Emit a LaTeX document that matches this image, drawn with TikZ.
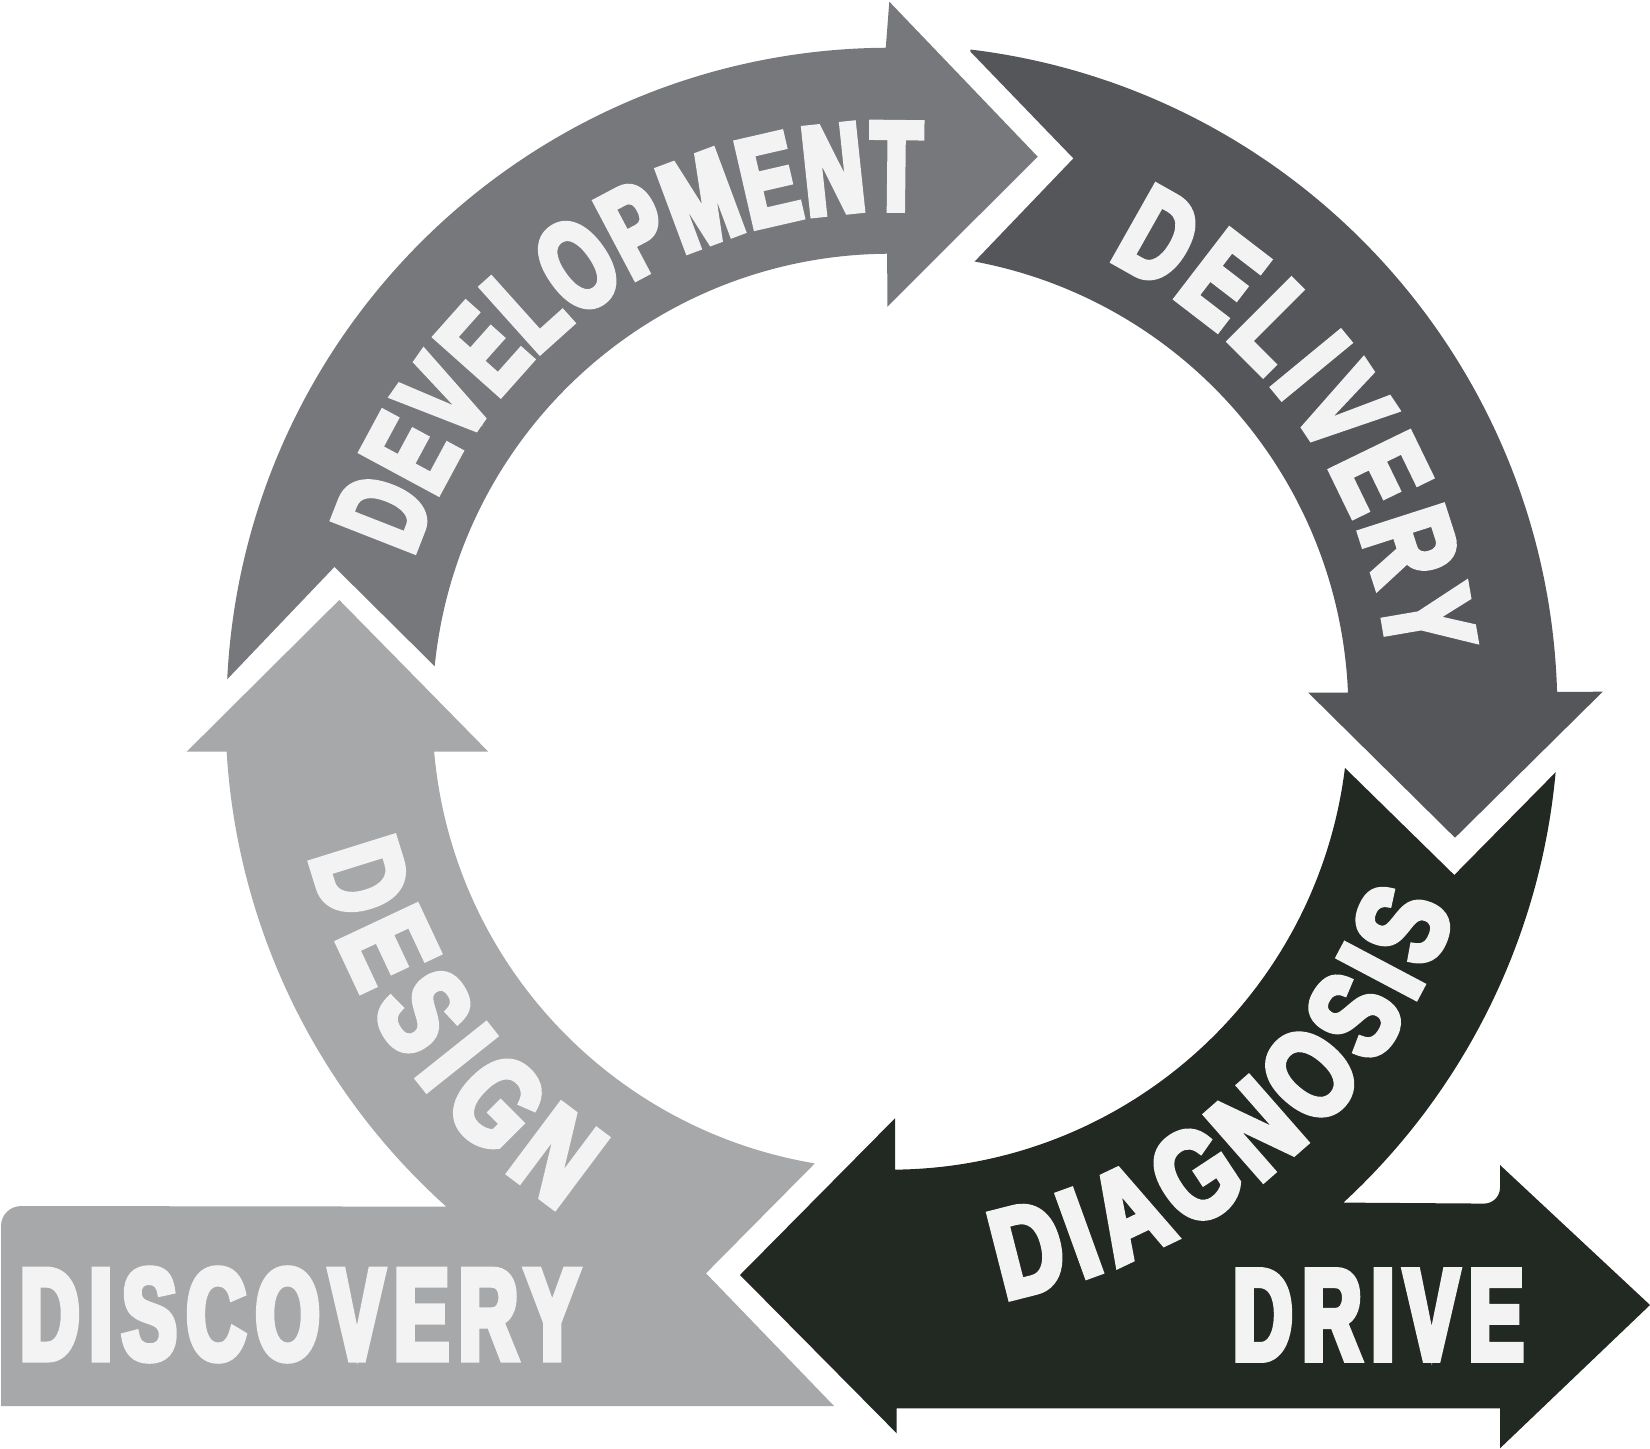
\documentclass[tikz,border=0pt]{standalone}
\usepackage{fontspec}
\usetikzlibrary{decorations.text}
\newfontfamily\narrowfont{Liberation Sans}[FakeStretch=0.66,FakeBold=5]
\newfontfamily\midfont{Liberation Sans}[FakeStretch=0.72,FakeBold=5]
\newfontfamily\widefont{Liberation Sans}[FakeStretch=0.76,FakeBold=5]
\newfontfamily\barfont{Liberation Sans}[FakeStretch=0.63,FakeBold=5,LetterSpace=7.7]
\newcommand\arcsize{\bfseries\fontsize{63}{63}\selectfont}
\definecolor{greyA}{HTML}{A7A8AA}
\definecolor{greyB}{HTML}{77787C}
\definecolor{greyC}{HTML}{55565A}
\definecolor{greyD}{HTML}{222822}
\definecolor{letter}{HTML}{F3F3F3}

\begin{document}
\begin{tikzpicture}[x=0.5pt,y=0.5pt,
    arcword/.style={decorate,decoration={text along path,text color=letter,text align={fit to path},text={#1}}},
    barword/.style={text=letter,inner sep=0pt,font=\barfont\bfseries\fontsize{65}{65}\selectfont}]
    \useasboundingbox (0,0) rectangle (1650,-1449);
    \coordinate (c) at (890.4,-711.7);

    \begin{scope}[shift={(c)}]
        \fill[greyA] (-551.1,111.7) -- (-402.1,-40) -- (185:458) arc[start angle=185,end angle=260.5,radius=458]
            -- (-184.4,-561.6) -- (-56.4,-694.3) -- (-889.4,-694.3) [rounded corners=10] -- (-889.4,-494.3)
            [sharp corners] -- (228.1:665) arc[start angle=228.1,end angle=183.45,radius=665] -- (-703.7,-40) -- cycle;

        \fill[greyB] (177.2:664) -- (165.4:574.5) -- (174.3:458) arc[start angle=174.3,end angle=90.4,radius=458]
            -- (-3.1,405) -- (147.3,555) -- (-1.1,710) -- (90.4:664) arc[start angle=90.4,end angle=177.2,radius=664] -- cycle;

        \fill[greyC] (83.1:665) -- (71.7:582.8) -- (79.4:458) arc[start angle=79.4,end angle=2.4,radius=458]
            -- (417.9,19) -- (564.6,-126) -- (712.3,20) -- (1.7:667) arc[start angle=1.7,end angle=83.1,radius=667] -- cycle;

        \fill[greyD] (-7.05:458) -- (563.9,-163.3) -- (-5.2:668) arc[start angle=-5.2,end angle=-47.3,radius=668]
            [rounded corners=8] -- (609.6,-492) [sharp corners] -- (609.6,-453.3) -- (759.6,-593.3) -- (609.6,-736.6)
            -- (609.6,-696.6) -- (6.3,-696.6) -- (6.3,-721.6) -- (-150.4,-563.3) -- (4.6,-406.6)
            -- (-89.4:458) arc[start angle=-89.4,end angle=-7.05,radius=458] -- cycle;

        \path[arcword={|\narrowfont\arcsize|DEVELOPMENT}] (162:502) arc[start angle=162,end angle=86.5,radius=502];
        \path[arcword={|\midfont\arcsize|DELIVERY}] (64.3:502) arc[start angle=64.3,end angle=6.3,radius=502];
        \path[arcword={|\widefont\arcsize|DIAGNOSIS}] (-79:598) arc[start angle=-79,end angle=-19.5,radius=598];
        \path[arcword={|\widefont\arcsize|DESIGN}] (194:598) arc[start angle=194,end angle=236.5,radius=598];

        \node[barword] (discovery) at (-590.5,-602.8) {DISCOVERY};
        \node[barword] (drive) at (488,-603.3) {DRIVE};
    \end{scope}
\end{tikzpicture}
\end{document}
